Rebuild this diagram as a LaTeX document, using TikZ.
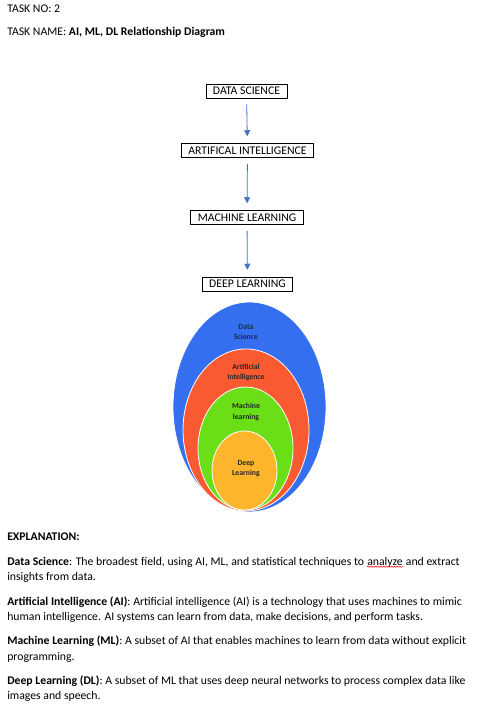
\documentclass[tikz,border=0pt]{standalone}
\usepackage{fontspec}
\setmainfont{Carlito}
\usetikzlibrary{arrows.meta,positioning,decorations.pathmorphing}
\definecolor{ink}{HTML}{000000}
\definecolor{arrowblue}{HTML}{4472C4}
\definecolor{dsblue}{HTML}{346FF0}
\definecolor{aired}{HTML}{FA5A32}
\definecolor{mlgreen}{HTML}{6ADE16}
\definecolor{dlgold}{HTML}{FDB62B}
\definecolor{navy}{HTML}{1B2A4A}
\tikzset{
  every picture/.style={font=\fontsize{8.8}{11.6}\selectfont},
  termbox/.style={draw=ink,line width=.6pt,inner xsep=5.2pt,inner ysep=2.3pt,font=\fontsize{8.8}{10}\selectfont,text=ink},
  flow/.style={-{Triangle[length=4.5pt,width=4.5pt]},draw=arrowblue,line width=.6pt,shorten <=4.5pt,shorten >=5.2pt},
  ring/.style={draw=white,line width=.6pt},
  ringlabel/.style={font=\bfseries\fontsize{5.8}{7.8}\selectfont,text=navy,align=center},
  bodyline/.style={anchor=base west,inner sep=0pt,text=ink},
  spellwave/.style={draw=red,line width=.4pt,decorate,decoration={snake,amplitude=.45pt,segment length=2pt}},
}
\begin{document}
\begin{tikzpicture}[x=.75pt,y=-.75pt]
  \fill[white] (0,0) rectangle (480,720);
  \useasboundingbox (0,0) rectangle (480,720);

  % heading lines at the top left
  \node[bodyline] (taskno) at (7,12.3) {TASK NO: 2};
  \node[bodyline] (taskname) at (7,36) {TASK NAME: \textbf{AI, ML, DL Relationship Diagram}};

  % chain of terms, each one a subset of the one above
  \node[termbox] (ds) at (246.5,91) {DATA SCIENCE};
  \node[termbox] (ai) at (247.5,150.5) {ARTIFICAL INTELLIGENCE};
  \node[termbox] (ml) at (247,217.5) {MACHINE LEARNING};
  \node[termbox] (dl) at (247.5,284) {DEEP LEARNING};
  \draw[flow] (ds) -- (ai);
  \draw[flow] (ai) -- (ml);
  \draw[flow] (ml) -- (dl);

  % nested ellipses, all touching near the bottom
  \draw[ring,fill=dsblue] (249.5,407) ellipse [x radius=76.5,y radius=105];
  \draw[ring,fill=aired] (246,430) ellipse [x radius=63,y radius=81];
  \draw[ring,fill=mlgreen] (245.5,448.5) ellipse [x radius=47.5,y radius=61.5];
  \draw[ring,fill=dlgold] (244.5,470.5) ellipse [x radius=32.5,y radius=39.5];
  \node[ringlabel] (dslabel) at (246,332) {Data\\Science};
  \node[ringlabel,text=black!85] (ailabel) at (246,372.5) {Artificial\\Intelligence};
  \node[ringlabel,text=black!85] (mllabel) at (246,412) {Machine\\learning};
  \node[ringlabel,text=black!85] (dllabel) at (246,468.5) {Deep\\Learning};

  % explanation, one node per printed line
  \node[bodyline] (explain) at (7,540.5) {\textbf{EXPLANATION:}};
  \node[bodyline] (exdsa) at (7,565) {\textbf{Data Science}: The broadest field, using AI, ML, and statistical techniques to\ \mbox{}};
  \node[bodyline] (typo) at (exdsa.base east) {analyze};
  \node[bodyline] (exdsb) at (typo.base east) {\mbox{}\ and extract};
  \draw[spellwave] ([yshift=-1.3pt]typo.base west) -- ([yshift=-1.3pt]typo.base east);
  \node[bodyline] (exdsc) at (7,580.6) {insights from data.};
  \node[bodyline] (exaia) at (7,605) {\textbf{Artificial Intelligence (AI)}: Artificial intelligence (AI) is a technology that uses machines to mimic};
  \node[bodyline] (exaib) at (7,620.5) {human intelligence. AI systems can learn from data, make decisions, and perform tasks.};
  \node[bodyline] (exmla) at (7,644.5) {\textbf{Machine Learning (ML)}: A subset of AI that enables machines to learn from data without explicit};
  \node[bodyline] (exmlb) at (7,660) {programming.};
  \node[bodyline] (exdla) at (7,684) {\textbf{Deep Learning (DL)}: A subset of ML that uses deep neural networks to process complex data like};
  \node[bodyline] (exdlb) at (7,699.5) {images and speech.};
\end{tikzpicture}
\end{document}
